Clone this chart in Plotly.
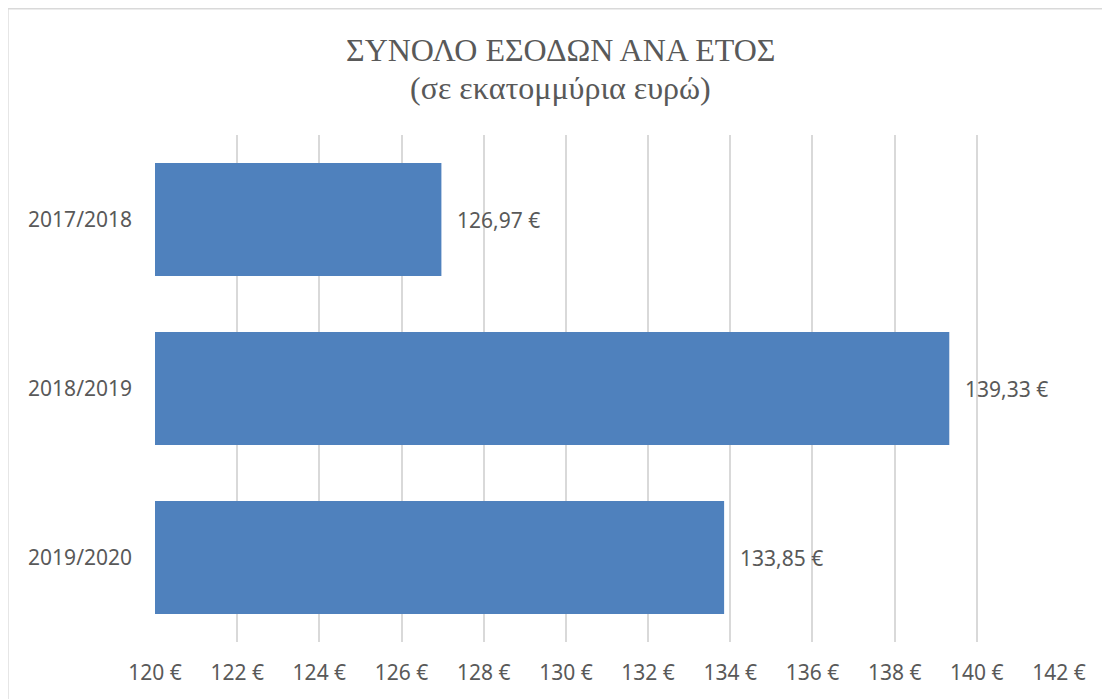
import plotly.graph_objects as go

# δεδομένα
years = ["2017/2018", "2018/2019", "2019/2020"]
revenue = [126.97, 139.33, 133.85]
x_ticks = list(range(120, 143, 2))
title_lines = ["ΣΥΝΟΛΟ ΕΣΟΔΩΝ ΑΝΑ ΕΤΟΣ", "(σε εκατομμύρια ευρώ)"]

bar_color = "#4F81BD"
text_color = "#595959"
serif = "Liberation Serif, DejaVu Serif, serif"
sans = "Noto Sans, Open Sans, sans-serif"

labels = [f"{v:.2f}".replace(".", ",") + " €" for v in revenue]

fig = go.Figure()
fig.add_trace(go.Bar(
    x=revenue,
    y=years,
    orientation="h",
    marker=dict(color=bar_color, line=dict(width=0)),
    width=0.67,
    hoverinfo="skip",
))

# ετικέτες τιμών δεξιά από κάθε μπάρα
for v, y, t in zip(revenue, years, labels):
    fig.add_annotation(
        x=v, y=y, text=t, showarrow=False,
        xanchor="left", xshift=14,
        font=dict(family=sans, size=21, color=text_color),
    )

# τίτλος σε δύο γραμμές
for line, ty in zip(title_lines, [1.1677, 1.0927]):
    fig.add_annotation(
        xref="paper", yref="paper", x=0.449, y=ty,
        text=line, showarrow=False,
        xanchor="center", yanchor="middle",
        font=dict(family=serif, size=32, color=text_color),
    )

# πλαίσιο γραφήματος
fig.add_shape(
    type="rect", xref="paper", yref="paper",
    x0=-0.163, x1=1.2, y0=-0.3, y1=1.2495,
    line=dict(color="#D9D9D9", width=2), layer="below",
)

# η σελίδα έχει περιθώριο 8px, γι' αυτό το σχήμα είναι λίγο μικρότερο
fig.update_layout(
    width=1102, height=691,
    paper_bgcolor="white", plot_bgcolor="white",
    margin=dict(l=147, r=51, t=127, b=57),
    showlegend=False,
    bargap=0.33,
)
fig.update_xaxes(
    range=[120, 142],
    tickvals=x_ticks,
    ticktext=[f"{t} €" for t in x_ticks],
    showgrid=True, gridcolor="#D9D9D9", gridwidth=1.5,
    zeroline=False, showline=False,
    ticks="", ticklabelstandoff=16,
    tickfont=dict(family=sans, size=21, color=text_color),
)
fig.update_yaxes(
    autorange="reversed",
    showgrid=False, zeroline=False, showline=False,
    ticks="", ticklabelstandoff=22,
    tickfont=dict(family=sans, size=21, color=text_color),
)

fig.write_html("out.html")
